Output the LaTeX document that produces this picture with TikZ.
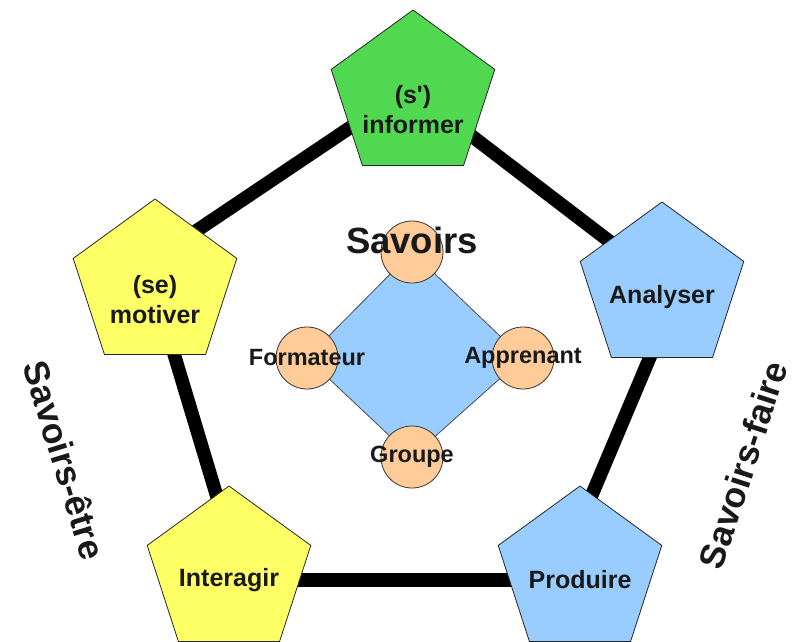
\documentclass[tikz,border=0pt]{standalone}
\usepackage{fontspec}
\setmainfont{Liberation Sans}
\usetikzlibrary{shapes.geometric,calc}
\definecolor{pgreen}{RGB}{80,216,80}
\definecolor{pyellow}{RGB}{255,255,102}
\definecolor{pblue}{RGB}{153,204,255}
\definecolor{ppeach}{RGB}{255,204,153}
\pgfdeclarelayer{back}
\pgfdeclarelayer{bg}
\pgfsetlayers{back,bg,main}
\begin{document}
\begin{tikzpicture}[x=1pt,y=-1pt,
  pent/.style={regular polygon, regular polygon sides=5, minimum size=172pt,
    draw=black!85, line width=0.8pt, inner sep=0pt},
  lbl/.style={font=\fontsize{25}{30}\selectfont\bfseries, align=center, text=black!90},
  small/.style={font=\fontsize{23.5}{28}\selectfont\bfseries, text=black!90},
  big/.style={font=\fontsize{36.5}{44}\selectfont\bfseries, text=black!90},
  side/.style={font=\fontsize{35.5}{42}\selectfont\bfseries, text=black!90},
  link/.style={line width=13.5pt, black},
  ball/.style={circle, draw=black!80, fill=ppeach, minimum size=62pt, inner sep=0pt, line width=0.8pt},
  diam/.style={fill=pblue, draw=black!70, line width=0.8pt, line join=miter}
]
\useasboundingbox (0,0) rectangle (795,642);
\begin{pgfonlayer}{back}
\fill[white] (0,0) rectangle (795,642);
\end{pgfonlayer}

% pentagons
\node[pent, fill=pgreen, label={[lbl,yshift=-14pt]center:{(s\textquotesingle)\\informer}}] (inf) at (413,96) {};
\node[pent, fill=pyellow, label={[lbl,yshift=-15pt]center:{(se)\\motiver}}] (mot) at (155,285) {};
\node[pent, fill=pblue, label={[lbl,yshift=-9pt]center:{Analyser}}] (ana) at (662,288) {};
\node[pent, fill=pyellow, label={[lbl,yshift=-8pt]center:{Interagir}}] (int) at (229,572) {};
\node[pent, fill=pblue, label={[lbl,yshift=-8pt]center:{Produire}}] (pro) at (580,572) {};

% connector junctions
\coordinate (jinf) at ($(inf.center)+(-4,-8)$);
\coordinate (jana) at ($(ana.center)+(15,5)$);
\coordinate (jpro) at ($(pro.center)+(-24,8)$);
\coordinate (jint) at ($(int.center)+(13,8)$);
\coordinate (jmot) at ($(mot.center)+(-8,-21)$);
\begin{pgfonlayer}{bg}
\draw[link] (jinf) -- (jana);
\draw[link] (jana) -- (jpro);
\draw[link] (jpro) -- (jint);
\draw[link] (jint) -- (jmot);
\draw[link] (jmot) -- (jinf);
\end{pgfonlayer}

% central diamond
\coordinate (ct) at (412,252);
\coordinate (cl) at (307,358);
\coordinate (cr) at (523,358);
\coordinate (cb) at (412,457);
\draw[diam] (ct) -- (cr) -- (cb) -- (cl) -- cycle;
\node[ball, label={[big,yshift=12pt]center:Savoirs}] (top) at (ct) {};
\node[ball, label={[small]center:Formateur}] (lft) at (cl) {};
\node[ball, label={[small]center:Apprenant}] (rgt) at (cr) {};
\node[ball, label={[small]center:Groupe}] (bot) at (cb) {};

% side titles
\node[side, rotate=-73] (setre) at (65,460) {Savoirs-être};
\node[side, rotate=72] (sfaire) at (743,465) {Savoirs-faire};
\end{tikzpicture}
\end{document}
